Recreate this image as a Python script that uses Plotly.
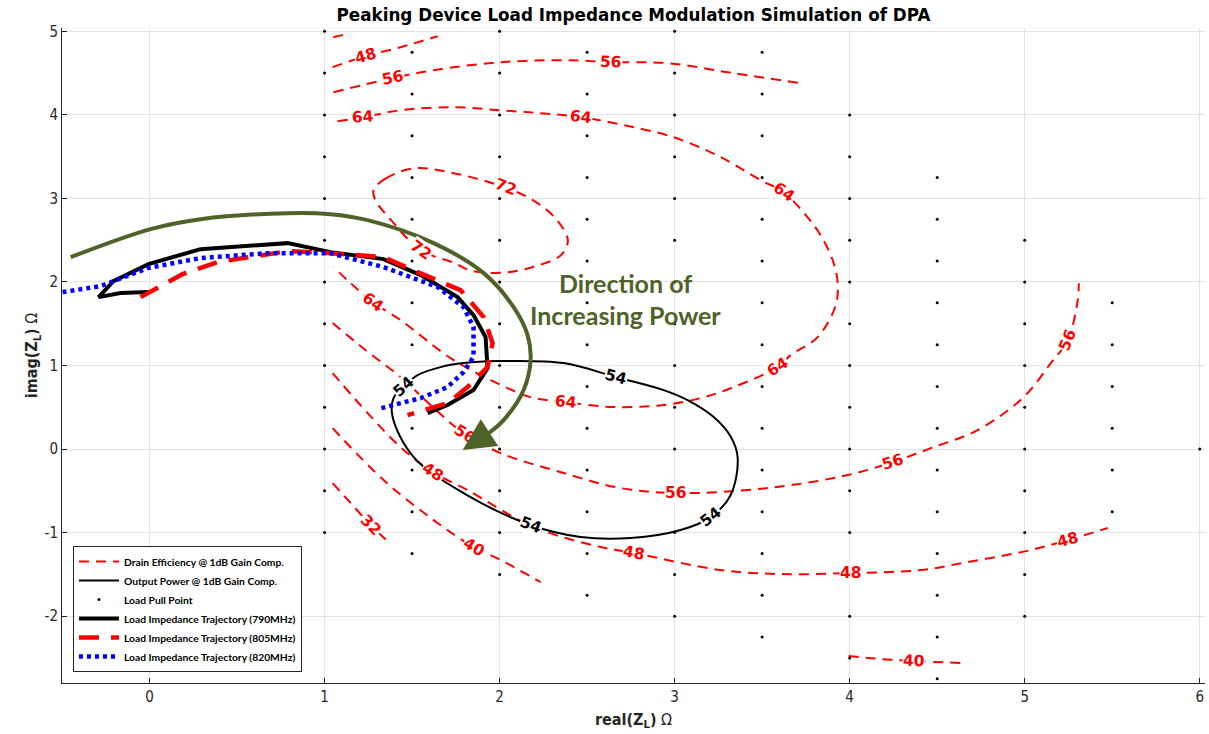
import plotly.graph_objects as go

# ---------------------------------------------------------------- data
# Load-pull grid: one column per real(Z) value, points every 0.5 ohm in imag(Z)
LP_COL_X = [1.0, 1.5, 2.0, 2.5, 3.0, 3.5, 4.0, 4.5, 5.0, 5.5, 6.0]
LP_COL_YTOP = [5.0, 4.75, 5.0, 4.75, 5.0, 4.75, 4.0, 3.25, 2.5, 1.75, 0.0]
LP_COL_YBOT = [-1.0, -1.25, -1.5, -1.75, -2.0, -2.25, -2.5, -2.75, -2.0, -0.75, 0.0]
LP_STEP = 0.5

# Drain efficiency contours (%), each level may have several open segments
EFF_72_X = [1.28, 1.35, 1.51, 1.72, 2.02, 2.19, 2.32, 2.39, 2.35, 2.19, 2.01, 1.83, 1.74, 1.55, 1.38, 1.29, 1.28]
EFF_72_Y = [3.10, 3.24, 3.36, 3.31, 3.14, 2.98, 2.76, 2.50, 2.32, 2.18, 2.11, 2.14, 2.23, 2.38, 2.74, 2.98, 3.10]

EFF_64_X = [1.074, 1.22, 1.434, 1.737, 2.0, 2.234, 2.463, 2.709, 2.994, 3.263, 3.491, 3.623, 3.749, 3.834,
            3.903, 3.931, 3.92, 3.817, 3.663, 3.589, 3.337, 3.149, 2.937, 2.651, 2.377, 2.177, 1.949, 1.72,
            1.434, 1.274, 1.149, 1.051]
EFF_64_Y = [3.925, 3.97, 4.056, 4.092, 4.056, 4.02, 3.973, 3.877, 3.733, 3.494, 3.219, 3.075, 2.80, 2.56,
            2.26, 2.00, 1.72, 1.34, 1.125, 0.981, 0.742, 0.61, 0.527, 0.503, 0.562, 0.622, 0.826, 1.089,
            1.544, 1.759, 1.986, 2.178]

EFF_56A_X = [1.051, 1.389, 1.623, 2.006, 2.389, 2.634, 2.96, 3.337, 3.72]
EFF_56A_Y = [4.272, 4.44, 4.535, 4.631, 4.655, 4.631, 4.619, 4.499, 4.38]
EFF_56B_X = [1.046, 1.234, 1.434, 1.606, 1.794, 2.006, 2.366, 2.691, 3.006, 3.531, 3.989, 4.246, 4.48,
             4.731, 4.994, 5.149, 5.246, 5.303, 5.309]
EFF_56B_Y = [1.508, 1.185, 0.862, 0.527, 0.191, -0.048, -0.287, -0.467, -0.527, -0.467, -0.311, -0.156,
             0.024, 0.227, 0.622, 1.029, 1.304, 1.783, 1.986]

EFF_48A_X = [1.046, 1.234, 1.434, 1.646]
EFF_48A_Y = [4.571, 4.703, 4.81, 4.942]
EFF_48B_X = [1.046, 1.246, 1.434, 1.617, 1.817, 2.194, 2.577, 2.766, 3.263, 3.606, 4.006, 4.406, 4.674,
             5.034, 5.246, 5.474]
EFF_48B_Y = [0.909, 0.431, 0.024, -0.275, -0.491, -0.933, -1.173, -1.244, -1.448, -1.496, -1.484, -1.448,
             -1.352, -1.209, -1.089, -0.945]

EFF_40A_X = [1.05, 1.13]
EFF_40A_Y = [4.93, 4.97]
EFF_40B_X = [1.046, 1.337, 1.623, 1.851, 2.006, 2.234]
EFF_40B_Y = [0.251, -0.371, -0.85, -1.173, -1.328, -1.592]
EFF_40C_X = [3.994, 4.177, 4.366, 4.634]
EFF_40C_Y = [-2.477, -2.513, -2.537, -2.561]

EFF_32_X = [1.046, 1.149, 1.263, 1.366]
EFF_32_Y = [-0.407, -0.646, -0.909, -1.113]

EFF_SEGMENTS = [
    (EFF_72_X, EFF_72_Y), (EFF_64_X, EFF_64_Y), (EFF_56A_X, EFF_56A_Y), (EFF_56B_X, EFF_56B_Y),
    (EFF_48A_X, EFF_48A_Y), (EFF_48B_X, EFF_48B_Y), (EFF_40A_X, EFF_40A_Y), (EFF_40B_X, EFF_40B_Y),
    (EFF_40C_X, EFF_40C_Y), (EFF_32_X, EFF_32_Y),
]

# Inline level labels for the efficiency contours
EFF_LABEL_LEVEL = [48, 56, 56, 64, 64, 64, 72, 72, 64, 64, 64, 56, 56, 56, 56, 48, 48, 48, 48, 40, 40, 32]
EFF_LABEL_X = [1.234, 1.389, 2.634, 1.217, 2.463, 3.623, 2.034, 1.549, 1.274, 3.589, 2.377, 1.80, 3.006,
               4.246, 5.246, 1.617, 2.766, 4.006, 5.246, 1.851, 4.366, 1.263]
EFF_LABEL_Y = [4.703, 4.44, 4.631, 3.973, 3.973, 3.075, 3.135, 2.381, 1.759, 0.981, 0.562, 0.18, -0.527,
               -0.156, 1.304, -0.275, -1.244, -1.484, -1.089, -1.173, -2.537, -0.909]
EFF_LABEL_ANGLE = [-16, -12, 2, -4, 6, 35, 20, 35, 36, -32, 5, 33, 0, -18, -68, 33, 10, 0, -15, 31, 2, 45]

# Output power contour (dBm)
POUT_54_X = [1.394, 1.451, 1.531, 1.663, 1.794, 1.989, 2.366, 2.663, 2.937, 3.074, 3.223, 3.32, 3.36,
             3.32, 3.206, 3.034, 2.749, 2.463, 2.177, 1.794, 1.509, 1.389, 1.394]
POUT_54_Y = [0.61, 0.742, 0.885, 0.981, 1.029, 1.053, 1.029, 0.862, 0.706, 0.586, 0.383, 0.15, -0.10,
             -0.55, -0.814, -0.969, -1.065, -1.053, -0.909, -0.527, -0.096, 0.383, 0.61]
POUT_LABEL_LEVEL = [54, 54, 54, 54]
POUT_LABEL_X = [1.451, 2.663, 3.206, 2.177]
POUT_LABEL_Y = [0.742, 0.862, -0.814, -0.909]
POUT_LABEL_ANGLE = [-42, 15, -38, 20]

# Peaking device load impedance trajectories
TRAJ_790_X = [-0.006, -0.166, -0.291, -0.206, -0.006, 0.291, 0.789, 1.034, 1.337, 1.549, 1.76, 1.851,
              1.92, 1.931, 1.851, 1.703, 1.589]
TRAJ_790_Y = [1.879, 1.867, 1.819, 2.01, 2.214, 2.393, 2.465, 2.357, 2.274, 2.082, 1.819, 1.603, 1.34,
              0.969, 0.706, 0.527, 0.431]
TRAJ_805_X = [-0.051, 0.189, 0.389, 0.594, 0.789, 1.034, 1.337, 1.531, 1.777, 1.909, 1.96, 1.931, 1.817,
              1.703, 1.474]
TRAJ_805_Y = [1.819, 2.094, 2.238, 2.309, 2.369, 2.345, 2.297, 2.118, 1.903, 1.58, 1.268, 0.981, 0.742,
              0.55, 0.407]
TRAJ_820_X = [-0.497, -0.28, -0.011, 0.291, 0.674, 1.034, 1.337, 1.646, 1.794, 1.851, 1.851, 1.794, 1.703,
              1.549, 1.303]
TRAJ_820_Y = [1.879, 1.95, 2.166, 2.286, 2.345, 2.345, 2.178, 1.939, 1.699, 1.46, 1.101, 0.921, 0.742,
              0.61, 0.479]

# Direction arrow
ARROW_X = [-0.451, 0.006, 0.291, 0.789, 1.034, 1.246, 1.623, 1.909, 2.08, 2.16, 2.177, 2.137, 2.023, 1.93]
ARROW_Y = [2.297, 2.633, 2.752, 2.824, 2.812, 2.74, 2.465, 2.106, 1.699, 1.364, 1.065, 0.706, 0.347, 0.18]
ARROW_TIP = (1.789, -0.012)

X_TICKS = [0, 1, 2, 3, 4, 5, 6]
Y_TICKS = [-2, -1, 0, 1, 2, 3, 4, 5]

# ---------------------------------------------------------------- styles
RED = "#ff0000"
OLIVE = "#4f6228"
LEGEND_FONT = dict(family="Lato, 'Open Sans', sans-serif", size=10.3, color="#000000", weight="bold")
AXIS_FONT = "'Liberation Sans Narrow', 'DejaVu Sans Condensed', 'Roboto Condensed', 'DejaVu Sans', sans-serif"
LABEL_FONT = "'DejaVu Sans', sans-serif"


def join_segments(segments):
    xs, ys = [], []
    for sx, sy in segments:
        xs += list(sx) + [None]
        ys += list(sy) + [None]
    return xs, ys


fig = go.Figure()

eff_x, eff_y = join_segments(EFF_SEGMENTS)
fig.add_trace(go.Scatter(
    x=eff_x, y=eff_y, mode="lines", name="Drain Efficiency @ 1dB Gain Comp.",
    line=dict(color=RED, width=2, dash="10px,7px", shape="spline", smoothing=1), hoverinfo="skip"))

fig.add_trace(go.Scatter(
    x=POUT_54_X, y=POUT_54_Y, mode="lines", name="Output Power @ 1dB Gain Comp.",
    line=dict(color="#000000", width=2, shape="spline", smoothing=1), hoverinfo="skip"))

lp_x, lp_y = [], []
for cx, ytop, ybot in zip(LP_COL_X, LP_COL_YTOP, LP_COL_YBOT):
    n = int(round((ytop - ybot) / LP_STEP)) + 1
    for k in range(n):
        lp_x.append(cx)
        lp_y.append(ytop - k * LP_STEP)
fig.add_trace(go.Scatter(
    x=lp_x, y=lp_y, mode="markers", name="Load Pull Point",
    marker=dict(color="#000000", size=3), hoverinfo="skip"))

fig.add_trace(go.Scatter(
    x=TRAJ_790_X, y=TRAJ_790_Y, mode="lines", name="Load Impedance Trajectory (790MHz)",
    line=dict(color="#000000", width=4), hoverinfo="skip"))
fig.add_trace(go.Scatter(
    x=TRAJ_805_X, y=TRAJ_805_Y, mode="lines", name="Load Impedance Trajectory (805MHz)",
    line=dict(color=RED, width=4.5, dash="20px,12px"), hoverinfo="skip"))
fig.add_trace(go.Scatter(
    x=TRAJ_820_X, y=TRAJ_820_Y, mode="lines", name="Load Impedance Trajectory (820MHz)",
    line=dict(color="#0000ff", width=4.5, dash="4px,4px"), hoverinfo="skip"))

fig.add_trace(go.Scatter(
    x=ARROW_X, y=ARROW_Y, mode="lines", showlegend=False,
    line=dict(color=OLIVE, width=4, shape="spline", smoothing=1), hoverinfo="skip"))

annotations = []
for lvl, lx, ly, ang in zip(EFF_LABEL_LEVEL, EFF_LABEL_X, EFF_LABEL_Y, EFF_LABEL_ANGLE):
    annotations.append(dict(
        x=lx, y=ly, text=str(lvl), showarrow=False, textangle=ang,
        font=dict(family=LABEL_FONT, size=15.5, color=RED, weight="bold"),
        bgcolor="#ffffff", borderpad=0))
for lvl, lx, ly, ang in zip(POUT_LABEL_LEVEL, POUT_LABEL_X, POUT_LABEL_Y, POUT_LABEL_ANGLE):
    annotations.append(dict(
        x=lx, y=ly, text=str(lvl), showarrow=False, textangle=ang,
        font=dict(family=LABEL_FONT, size=15.5, color="#000000", weight="bold"),
        bgcolor="#ffffff", borderpad=0))

# arrow head at the end of the olive curve
annotations.append(dict(
    x=ARROW_TIP[0], y=ARROW_TIP[1], ax=ARROW_X[-1], ay=ARROW_Y[-1],
    xref="x", yref="y", axref="x", ayref="y", text="", showarrow=True,
    arrowhead=2, arrowsize=1.6, arrowwidth=4, arrowcolor=OLIVE, standoff=0))

for txt, ty in (("Direction of", 1.986), ("Increasing Power", 1.603)):
    annotations.append(dict(
        x=2.72, y=ty, text=txt, showarrow=False,
        font=dict(family="Lato, 'Open Sans', sans-serif", size=25, color=OLIVE, weight="bold")))

fig.update_layout(
    width=1209, height=734,
    margin=dict(l=62, r=4, t=28, b=51),
    paper_bgcolor="#ffffff", plot_bgcolor="#ffffff",
    title=dict(
        text="<b>Peaking Device Load Impedance Modulation Simulation of DPA</b>",
        x=0.5, xref="paper", xanchor="center", y=1 - 15 / 734, yanchor="middle",
        font=dict(family=LABEL_FONT, size=16.8, color="#000000")),
    xaxis=dict(
        range=[-0.5, 6.03], tickvals=X_TICKS, ticktext=[str(v) for v in X_TICKS],
        showgrid=True, gridcolor="#e3e3e3",
        zeroline=False, showline=True, linecolor="#262626", linewidth=1, ticks="inside", ticklen=5,
        tickcolor="#262626", tickfont=dict(family=AXIS_FONT, size=15, color="#262626"),
        title=dict(text="<b>real(Z<sub>L</sub>)</b> Ω", standoff=8,
                   font=dict(family=AXIS_FONT, size=16, color="#262626"))),
    yaxis=dict(
        range=[-2.8, 5.04], tickvals=Y_TICKS, ticktext=[str(v) for v in Y_TICKS],
        showgrid=True, gridcolor="#e3e3e3",
        zeroline=False, showline=True, linecolor="#262626", linewidth=1, ticks="inside", ticklen=5,
        tickcolor="#262626", tickfont=dict(family=AXIS_FONT, size=15, color="#262626"),
        title=dict(text="<b>imag(Z<sub>L</sub>)</b> Ω", standoff=2,
                   font=dict(family=AXIS_FONT, size=16, color="#262626"))),
    legend=dict(
        x=0.0096, y=0.0168, xanchor="left", yanchor="bottom", bgcolor="#ffffff",
        bordercolor="#262626", borderwidth=1, font=LEGEND_FONT, tracegroupgap=0, itemwidth=40),
    annotations=annotations,
    showlegend=True,
)

fig.write_html("out.html")
